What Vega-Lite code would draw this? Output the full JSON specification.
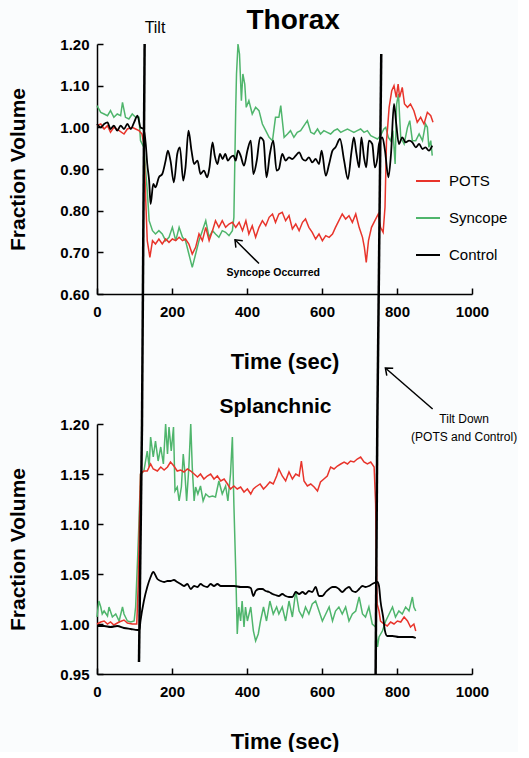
{
  "$schema": "https://vega.github.io/schema/vega-lite/v6.json",
  "background": "#fafcfd",
  "padding": {"left": 7, "top": 6, "right": 0, "bottom": 0},
  "config": {
    "font": "Liberation Sans",
    "view": {"stroke": null},
    "axis": {
      "domainColor": "#000000", "domainWidth": 1.5,
      "tickColor": "#000000", "tickWidth": 1.5, "tickSize": -6,
      "labelPadding": 14, "labelFont": "Liberation Sans", "labelFontSize": 15,
      "labelFontWeight": "bold", "labelColor": "#000000", "grid": false, "labelFlush": false,
      "titleFont": "Liberation Sans", "titleFontSize": 21, "titleFontWeight": "bold", "titleColor": "#000000"
    }
  },
  "datasets": {
    "top": [
      {"s":"Syncope","t":0,"v":1.052},{"s":"Syncope","t":10,"v":1.036},{"s":"Syncope","t":19,"v":1.032},{"s":"Syncope","t":28,"v":1.028},{"s":"Syncope","t":36,"v":1.040},{"s":"Syncope","t":45,"v":1.024},{"s":"Syncope","t":54,"v":1.032},{"s":"Syncope","t":63,"v":1.028},{"s":"Syncope","t":68,"v":1.060},{"s":"Syncope","t":76,"v":1.024},{"s":"Syncope","t":85,"v":1.020},{"s":"Syncope","t":94,"v":1.032},{"s":"Syncope","t":103,"v":1.024},{"s":"Syncope","t":112,"v":1.024},{"s":"Syncope","t":116,"v":0.968},{"s":"Syncope","t":125,"v":0.952},{"s":"Syncope","t":134,"v":0.848},{"s":"Syncope","t":139,"v":0.776},{"s":"Syncope","t":148,"v":0.752},{"s":"Syncope","t":156,"v":0.744},{"s":"Syncope","t":165,"v":0.752},{"s":"Syncope","t":174,"v":0.744},{"s":"Syncope","t":183,"v":0.728},{"s":"Syncope","t":192,"v":0.736},{"s":"Syncope","t":201,"v":0.760},{"s":"Syncope","t":210,"v":0.728},{"s":"Syncope","t":219,"v":0.760},{"s":"Syncope","t":228,"v":0.736},{"s":"Syncope","t":236,"v":0.728},{"s":"Syncope","t":245,"v":0.696},{"s":"Syncope","t":254,"v":0.664},{"s":"Syncope","t":263,"v":0.696},{"s":"Syncope","t":272,"v":0.728},{"s":"Syncope","t":281,"v":0.752},{"s":"Syncope","t":290,"v":0.776},{"s":"Syncope","t":299,"v":0.736},{"s":"Syncope","t":308,"v":0.752},{"s":"Syncope","t":316,"v":0.744},{"s":"Syncope","t":325,"v":0.736},{"s":"Syncope","t":334,"v":0.752},{"s":"Syncope","t":343,"v":0.748},{"s":"Syncope","t":352,"v":0.740},{"s":"Syncope","t":361,"v":0.752},{"s":"Syncope","t":365,"v":0.784},{"s":"Syncope","t":370,"v":1.048},{"s":"Syncope","t":372,"v":1.128},{"s":"Syncope","t":376,"v":1.200},{"s":"Syncope","t":380,"v":1.176},{"s":"Syncope","t":385,"v":1.064},{"s":"Syncope","t":389,"v":1.128},{"s":"Syncope","t":394,"v":1.104},{"s":"Syncope","t":398,"v":1.048},{"s":"Syncope","t":405,"v":1.064},{"s":"Syncope","t":414,"v":1.032},{"s":"Syncope","t":423,"v":1.048},{"s":"Syncope","t":432,"v":1.040},{"s":"Syncope","t":441,"v":1.008},{"s":"Syncope","t":450,"v":0.992},{"s":"Syncope","t":459,"v":0.976},{"s":"Syncope","t":468,"v":0.968},{"s":"Syncope","t":476,"v":1.024},{"s":"Syncope","t":485,"v":1.024},{"s":"Syncope","t":490,"v":1.052},{"s":"Syncope","t":499,"v":0.976},{"s":"Syncope","t":508,"v":0.984},{"s":"Syncope","t":516,"v":0.992},{"s":"Syncope","t":525,"v":0.976},{"s":"Syncope","t":534,"v":0.988},{"s":"Syncope","t":543,"v":0.992},{"s":"Syncope","t":552,"v":1.004},{"s":"Syncope","t":561,"v":1.016},{"s":"Syncope","t":570,"v":0.988},{"s":"Syncope","t":579,"v":0.984},{"s":"Syncope","t":588,"v":0.996},{"s":"Syncope","t":596,"v":0.984},{"s":"Syncope","t":605,"v":0.992},{"s":"Syncope","t":614,"v":0.988},{"s":"Syncope","t":623,"v":0.984},{"s":"Syncope","t":632,"v":0.992},{"s":"Syncope","t":641,"v":0.996},{"s":"Syncope","t":650,"v":0.988},{"s":"Syncope","t":659,"v":0.992},{"s":"Syncope","t":668,"v":0.996},{"s":"Syncope","t":676,"v":0.992},{"s":"Syncope","t":685,"v":0.988},{"s":"Syncope","t":694,"v":0.992},{"s":"Syncope","t":703,"v":0.996},{"s":"Syncope","t":712,"v":0.988},{"s":"Syncope","t":721,"v":0.992},{"s":"Syncope","t":730,"v":0.980},{"s":"Syncope","t":739,"v":0.976},{"s":"Syncope","t":748,"v":0.972},{"s":"Syncope","t":756,"v":0.980},{"s":"Syncope","t":765,"v":0.996},{"s":"Syncope","t":770,"v":1.000},{"s":"Syncope","t":777,"v":0.976},{"s":"Syncope","t":783,"v":0.968},{"s":"Syncope","t":789,"v":0.992},{"s":"Syncope","t":795,"v":0.912},{"s":"Syncope","t":799,"v":1.056},{"s":"Syncope","t":804,"v":1.080},{"s":"Syncope","t":807,"v":1.024},{"s":"Syncope","t":810,"v":0.976},{"s":"Syncope","t":819,"v":0.960},{"s":"Syncope","t":828,"v":1.000},{"s":"Syncope","t":834,"v":1.016},{"s":"Syncope","t":841,"v":0.968},{"s":"Syncope","t":850,"v":0.968},{"s":"Syncope","t":859,"v":0.984},{"s":"Syncope","t":868,"v":0.968},{"s":"Syncope","t":876,"v":1.008},{"s":"Syncope","t":881,"v":1.000},{"s":"Syncope","t":885,"v":0.952},{"s":"Syncope","t":890,"v":0.968},{"s":"Syncope","t":894,"v":0.932},
      {"s":"POTS","t":0,"v":1.004},{"s":"POTS","t":10,"v":1.008},{"s":"POTS","t":19,"v":0.996},{"s":"POTS","t":28,"v":1.004},{"s":"POTS","t":36,"v":0.988},{"s":"POTS","t":45,"v":1.000},{"s":"POTS","t":59,"v":0.992},{"s":"POTS","t":72,"v":0.984},{"s":"POTS","t":81,"v":0.996},{"s":"POTS","t":94,"v":1.000},{"s":"POTS","t":103,"v":0.996},{"s":"POTS","t":112,"v":0.992},{"s":"POTS","t":120,"v":0.984},{"s":"POTS","t":125,"v":0.960},{"s":"POTS","t":130,"v":0.824},{"s":"POTS","t":134,"v":0.728},{"s":"POTS","t":141,"v":0.688},{"s":"POTS","t":148,"v":0.728},{"s":"POTS","t":156,"v":0.720},{"s":"POTS","t":165,"v":0.732},{"s":"POTS","t":174,"v":0.720},{"s":"POTS","t":183,"v":0.732},{"s":"POTS","t":192,"v":0.724},{"s":"POTS","t":201,"v":0.732},{"s":"POTS","t":210,"v":0.728},{"s":"POTS","t":219,"v":0.736},{"s":"POTS","t":228,"v":0.728},{"s":"POTS","t":236,"v":0.732},{"s":"POTS","t":245,"v":0.720},{"s":"POTS","t":254,"v":0.696},{"s":"POTS","t":263,"v":0.712},{"s":"POTS","t":272,"v":0.744},{"s":"POTS","t":281,"v":0.728},{"s":"POTS","t":290,"v":0.760},{"s":"POTS","t":299,"v":0.728},{"s":"POTS","t":308,"v":0.752},{"s":"POTS","t":316,"v":0.776},{"s":"POTS","t":325,"v":0.760},{"s":"POTS","t":334,"v":0.776},{"s":"POTS","t":343,"v":0.760},{"s":"POTS","t":352,"v":0.768},{"s":"POTS","t":361,"v":0.772},{"s":"POTS","t":370,"v":0.760},{"s":"POTS","t":379,"v":0.772},{"s":"POTS","t":388,"v":0.752},{"s":"POTS","t":397,"v":0.776},{"s":"POTS","t":405,"v":0.744},{"s":"POTS","t":414,"v":0.764},{"s":"POTS","t":423,"v":0.736},{"s":"POTS","t":432,"v":0.760},{"s":"POTS","t":441,"v":0.776},{"s":"POTS","t":450,"v":0.764},{"s":"POTS","t":459,"v":0.784},{"s":"POTS","t":468,"v":0.792},{"s":"POTS","t":476,"v":0.772},{"s":"POTS","t":485,"v":0.792},{"s":"POTS","t":494,"v":0.796},{"s":"POTS","t":503,"v":0.776},{"s":"POTS","t":512,"v":0.788},{"s":"POTS","t":521,"v":0.756},{"s":"POTS","t":530,"v":0.768},{"s":"POTS","t":539,"v":0.752},{"s":"POTS","t":548,"v":0.772},{"s":"POTS","t":556,"v":0.780},{"s":"POTS","t":565,"v":0.760},{"s":"POTS","t":574,"v":0.748},{"s":"POTS","t":583,"v":0.732},{"s":"POTS","t":592,"v":0.744},{"s":"POTS","t":601,"v":0.728},{"s":"POTS","t":610,"v":0.740},{"s":"POTS","t":619,"v":0.736},{"s":"POTS","t":628,"v":0.744},{"s":"POTS","t":636,"v":0.760},{"s":"POTS","t":645,"v":0.776},{"s":"POTS","t":654,"v":0.792},{"s":"POTS","t":663,"v":0.780},{"s":"POTS","t":672,"v":0.788},{"s":"POTS","t":681,"v":0.772},{"s":"POTS","t":690,"v":0.792},{"s":"POTS","t":699,"v":0.760},{"s":"POTS","t":708,"v":0.736},{"s":"POTS","t":713,"v":0.712},{"s":"POTS","t":718,"v":0.676},{"s":"POTS","t":724,"v":0.728},{"s":"POTS","t":732,"v":0.760},{"s":"POTS","t":741,"v":0.776},{"s":"POTS","t":750,"v":0.792},{"s":"POTS","t":756,"v":0.760},{"s":"POTS","t":763,"v":0.748},{"s":"POTS","t":768,"v":0.808},{"s":"POTS","t":772,"v":0.968},{"s":"POTS","t":775,"v":1.000},{"s":"POTS","t":779,"v":1.048},{"s":"POTS","t":786,"v":1.088},{"s":"POTS","t":792,"v":1.100},{"s":"POTS","t":798,"v":1.072},{"s":"POTS","t":803,"v":1.104},{"s":"POTS","t":807,"v":1.072},{"s":"POTS","t":814,"v":1.096},{"s":"POTS","t":820,"v":1.056},{"s":"POTS","t":828,"v":1.048},{"s":"POTS","t":836,"v":1.056},{"s":"POTS","t":845,"v":1.040},{"s":"POTS","t":854,"v":1.012},{"s":"POTS","t":863,"v":1.024},{"s":"POTS","t":872,"v":1.008},{"s":"POTS","t":881,"v":1.036},{"s":"POTS","t":890,"v":1.028},{"s":"POTS","t":896,"v":1.012},
      {"s":"Control","t":0,"v":1.008},{"s":"Control","t":10,"v":1.000},{"s":"Control","t":19,"v":1.008},{"s":"Control","t":28,"v":1.012},{"s":"Control","t":36,"v":0.996},{"s":"Control","t":45,"v":1.004},{"s":"Control","t":54,"v":0.992},{"s":"Control","t":63,"v":1.004},{"s":"Control","t":72,"v":0.996},{"s":"Control","t":81,"v":1.008},{"s":"Control","t":90,"v":0.996},{"s":"Control","t":99,"v":1.012},{"s":"Control","t":108,"v":1.028},{"s":"Control","t":116,"v":1.000},{"s":"Control","t":124,"v":0.996},{"s":"Control","t":130,"v":0.960},{"s":"Control","t":134,"v":0.912},{"s":"Control","t":139,"v":0.872},{"s":"Control","t":143,"v":0.816},{"s":"Control","t":150,"v":0.864},{"s":"Control","t":156,"v":0.856},{"s":"Control","t":165,"v":0.880},{"s":"Control","t":174,"v":0.888},{"s":"Control","t":183,"v":0.920},{"s":"Control","t":189,"v":0.944},{"s":"Control","t":196,"v":0.920},{"s":"Control","t":205,"v":0.868},{"s":"Control","t":214,"v":0.936},{"s":"Control","t":221,"v":0.952},{"s":"Control","t":230,"v":0.872},{"s":"Control","t":236,"v":0.904},{"s":"Control","t":244,"v":0.992},{"s":"Control","t":252,"v":0.944},{"s":"Control","t":259,"v":0.912},{"s":"Control","t":268,"v":0.920},{"s":"Control","t":276,"v":0.888},{"s":"Control","t":285,"v":0.896},{"s":"Control","t":294,"v":0.880},{"s":"Control","t":300,"v":0.904},{"s":"Control","t":308,"v":0.964},{"s":"Control","t":314,"v":0.932},{"s":"Control","t":321,"v":0.912},{"s":"Control","t":328,"v":0.936},{"s":"Control","t":335,"v":0.924},{"s":"Control","t":342,"v":0.936},{"s":"Control","t":349,"v":0.920},{"s":"Control","t":356,"v":0.928},{"s":"Control","t":364,"v":0.932},{"s":"Control","t":370,"v":0.920},{"s":"Control","t":376,"v":0.944},{"s":"Control","t":383,"v":0.932},{"s":"Control","t":392,"v":0.908},{"s":"Control","t":401,"v":0.944},{"s":"Control","t":410,"v":0.968},{"s":"Control","t":417,"v":0.888},{"s":"Control","t":426,"v":0.920},{"s":"Control","t":435,"v":0.976},{"s":"Control","t":444,"v":0.968},{"s":"Control","t":452,"v":0.880},{"s":"Control","t":461,"v":0.936},{"s":"Control","t":470,"v":0.968},{"s":"Control","t":479,"v":0.896},{"s":"Control","t":485,"v":0.900},{"s":"Control","t":494,"v":0.936},{"s":"Control","t":503,"v":0.920},{"s":"Control","t":512,"v":0.928},{"s":"Control","t":521,"v":0.924},{"s":"Control","t":530,"v":0.932},{"s":"Control","t":539,"v":0.940},{"s":"Control","t":548,"v":0.924},{"s":"Control","t":556,"v":0.920},{"s":"Control","t":565,"v":0.928},{"s":"Control","t":574,"v":0.916},{"s":"Control","t":583,"v":0.924},{"s":"Control","t":592,"v":0.912},{"s":"Control","t":599,"v":0.944},{"s":"Control","t":610,"v":0.884},{"s":"Control","t":619,"v":0.912},{"s":"Control","t":628,"v":0.944},{"s":"Control","t":636,"v":0.952},{"s":"Control","t":648,"v":0.972},{"s":"Control","t":659,"v":0.920},{"s":"Control","t":669,"v":0.876},{"s":"Control","t":679,"v":0.944},{"s":"Control","t":685,"v":0.976},{"s":"Control","t":692,"v":0.936},{"s":"Control","t":699,"v":0.904},{"s":"Control","t":705,"v":0.976},{"s":"Control","t":712,"v":0.928},{"s":"Control","t":718,"v":0.904},{"s":"Control","t":725,"v":0.968},{"s":"Control","t":734,"v":0.960},{"s":"Control","t":741,"v":0.904},{"s":"Control","t":748,"v":0.928},{"s":"Control","t":752,"v":0.960},{"s":"Control","t":761,"v":0.976},{"s":"Control","t":768,"v":0.944},{"s":"Control","t":777,"v":0.880},{"s":"Control","t":784,"v":0.936},{"s":"Control","t":792,"v":1.056},{"s":"Control","t":798,"v":1.008},{"s":"Control","t":805,"v":0.960},{"s":"Control","t":814,"v":0.976},{"s":"Control","t":823,"v":0.964},{"s":"Control","t":832,"v":0.968},{"s":"Control","t":841,"v":0.964},{"s":"Control","t":850,"v":0.952},{"s":"Control","t":859,"v":0.960},{"s":"Control","t":868,"v":0.948},{"s":"Control","t":876,"v":0.952},{"s":"Control","t":885,"v":0.944},{"s":"Control","t":894,"v":0.956}
    ],
    "bottom": [
      {"s":"Syncope","t":0,"v":1.007},{"s":"Syncope","t":5,"v":1.023},{"s":"Syncope","t":10,"v":1.017},{"s":"Syncope","t":14,"v":1.010},{"s":"Syncope","t":19,"v":1.013},{"s":"Syncope","t":28,"v":1.008},{"s":"Syncope","t":32,"v":1.017},{"s":"Syncope","t":41,"v":1.007},{"s":"Syncope","t":50,"v":1.010},{"s":"Syncope","t":59,"v":1.003},{"s":"Syncope","t":68,"v":1.017},{"s":"Syncope","t":72,"v":1.010},{"s":"Syncope","t":81,"v":1.003},{"s":"Syncope","t":90,"v":1.002},{"s":"Syncope","t":99,"v":1.003},{"s":"Syncope","t":103,"v":1.017},{"s":"Syncope","t":108,"v":1.063},{"s":"Syncope","t":112,"v":1.103},{"s":"Syncope","t":116,"v":1.150},{"s":"Syncope","t":125,"v":1.153},{"s":"Syncope","t":134,"v":1.173},{"s":"Syncope","t":139,"v":1.157},{"s":"Syncope","t":143,"v":1.187},{"s":"Syncope","t":150,"v":1.167},{"s":"Syncope","t":156,"v":1.183},{"s":"Syncope","t":163,"v":1.163},{"s":"Syncope","t":170,"v":1.177},{"s":"Syncope","t":177,"v":1.160},{"s":"Syncope","t":183,"v":1.200},{"s":"Syncope","t":188,"v":1.170},{"s":"Syncope","t":192,"v":1.197},{"s":"Syncope","t":198,"v":1.173},{"s":"Syncope","t":204,"v":1.197},{"s":"Syncope","t":208,"v":1.133},{"s":"Syncope","t":214,"v":1.137},{"s":"Syncope","t":219,"v":1.123},{"s":"Syncope","t":225,"v":1.137},{"s":"Syncope","t":230,"v":1.170},{"s":"Syncope","t":234,"v":1.153},{"s":"Syncope","t":239,"v":1.123},{"s":"Syncope","t":245,"v":1.157},{"s":"Syncope","t":250,"v":1.200},{"s":"Syncope","t":254,"v":1.157},{"s":"Syncope","t":259,"v":1.123},{"s":"Syncope","t":263,"v":1.137},{"s":"Syncope","t":269,"v":1.130},{"s":"Syncope","t":276,"v":1.138},{"s":"Syncope","t":283,"v":1.123},{"s":"Syncope","t":290,"v":1.130},{"s":"Syncope","t":299,"v":1.127},{"s":"Syncope","t":308,"v":1.128},{"s":"Syncope","t":316,"v":1.127},{"s":"Syncope","t":325,"v":1.143},{"s":"Syncope","t":334,"v":1.130},{"s":"Syncope","t":343,"v":1.138},{"s":"Syncope","t":349,"v":1.123},{"s":"Syncope","t":356,"v":1.150},{"s":"Syncope","t":361,"v":1.187},{"s":"Syncope","t":365,"v":1.120},{"s":"Syncope","t":370,"v":1.053},{"s":"Syncope","t":374,"v":0.990},{"s":"Syncope","t":378,"v":1.017},{"s":"Syncope","t":383,"v":1.003},{"s":"Syncope","t":387,"v":1.023},{"s":"Syncope","t":392,"v":0.997},{"s":"Syncope","t":396,"v":1.017},{"s":"Syncope","t":401,"v":1.003},{"s":"Syncope","t":410,"v":1.017},{"s":"Syncope","t":417,"v":0.993},{"s":"Syncope","t":423,"v":0.983},{"s":"Syncope","t":430,"v":0.990},{"s":"Syncope","t":436,"v":1.003},{"s":"Syncope","t":444,"v":1.017},{"s":"Syncope","t":452,"v":1.003},{"s":"Syncope","t":461,"v":1.023},{"s":"Syncope","t":470,"v":1.010},{"s":"Syncope","t":479,"v":1.017},{"s":"Syncope","t":485,"v":1.010},{"s":"Syncope","t":494,"v":1.017},{"s":"Syncope","t":503,"v":1.003},{"s":"Syncope","t":512,"v":1.023},{"s":"Syncope","t":521,"v":1.007},{"s":"Syncope","t":530,"v":1.033},{"s":"Syncope","t":539,"v":1.013},{"s":"Syncope","t":548,"v":1.007},{"s":"Syncope","t":556,"v":1.017},{"s":"Syncope","t":565,"v":1.010},{"s":"Syncope","t":574,"v":1.020},{"s":"Syncope","t":583,"v":1.023},{"s":"Syncope","t":592,"v":1.013},{"s":"Syncope","t":601,"v":1.003},{"s":"Syncope","t":610,"v":1.010},{"s":"Syncope","t":619,"v":1.017},{"s":"Syncope","t":628,"v":1.003},{"s":"Syncope","t":636,"v":1.013},{"s":"Syncope","t":645,"v":1.017},{"s":"Syncope","t":654,"v":1.010},{"s":"Syncope","t":663,"v":1.017},{"s":"Syncope","t":672,"v":1.003},{"s":"Syncope","t":681,"v":1.010},{"s":"Syncope","t":690,"v":1.013},{"s":"Syncope","t":699,"v":1.027},{"s":"Syncope","t":708,"v":1.010},{"s":"Syncope","t":716,"v":1.007},{"s":"Syncope","t":725,"v":1.017},{"s":"Syncope","t":734,"v":1.000},{"s":"Syncope","t":743,"v":0.997},{"s":"Syncope","t":748,"v":0.977},{"s":"Syncope","t":752,"v":0.987},{"s":"Syncope","t":761,"v":0.993},{"s":"Syncope","t":770,"v":1.003},{"s":"Syncope","t":779,"v":1.010},{"s":"Syncope","t":788,"v":1.017},{"s":"Syncope","t":796,"v":1.007},{"s":"Syncope","t":805,"v":1.013},{"s":"Syncope","t":814,"v":1.010},{"s":"Syncope","t":823,"v":1.017},{"s":"Syncope","t":832,"v":1.013},{"s":"Syncope","t":841,"v":1.027},{"s":"Syncope","t":845,"v":1.017},{"s":"Syncope","t":850,"v":1.013},
      {"s":"POTS","t":0,"v":1.000},{"s":"POTS","t":10,"v":1.002},{"s":"POTS","t":19,"v":1.003},{"s":"POTS","t":28,"v":1.000},{"s":"POTS","t":36,"v":1.002},{"s":"POTS","t":45,"v":0.999},{"s":"POTS","t":59,"v":1.002},{"s":"POTS","t":72,"v":1.004},{"s":"POTS","t":81,"v":1.001},{"s":"POTS","t":94,"v":1.000},{"s":"POTS","t":106,"v":1.000},{"s":"POTS","t":110,"v":1.040},{"s":"POTS","t":113,"v":1.100},{"s":"POTS","t":116,"v":1.150},{"s":"POTS","t":125,"v":1.153},{"s":"POTS","t":134,"v":1.153},{"s":"POTS","t":143,"v":1.160},{"s":"POTS","t":150,"v":1.155},{"s":"POTS","t":161,"v":1.153},{"s":"POTS","t":170,"v":1.157},{"s":"POTS","t":179,"v":1.154},{"s":"POTS","t":188,"v":1.157},{"s":"POTS","t":196,"v":1.162},{"s":"POTS","t":205,"v":1.158},{"s":"POTS","t":214,"v":1.153},{"s":"POTS","t":223,"v":1.154},{"s":"POTS","t":232,"v":1.152},{"s":"POTS","t":241,"v":1.155},{"s":"POTS","t":250,"v":1.153},{"s":"POTS","t":259,"v":1.150},{"s":"POTS","t":268,"v":1.147},{"s":"POTS","t":276,"v":1.150},{"s":"POTS","t":285,"v":1.145},{"s":"POTS","t":294,"v":1.148},{"s":"POTS","t":303,"v":1.150},{"s":"POTS","t":312,"v":1.145},{"s":"POTS","t":321,"v":1.148},{"s":"POTS","t":330,"v":1.143},{"s":"POTS","t":339,"v":1.145},{"s":"POTS","t":348,"v":1.140},{"s":"POTS","t":356,"v":1.135},{"s":"POTS","t":365,"v":1.138},{"s":"POTS","t":374,"v":1.135},{"s":"POTS","t":383,"v":1.137},{"s":"POTS","t":392,"v":1.132},{"s":"POTS","t":401,"v":1.135},{"s":"POTS","t":410,"v":1.130},{"s":"POTS","t":417,"v":1.135},{"s":"POTS","t":423,"v":1.137},{"s":"POTS","t":435,"v":1.140},{"s":"POTS","t":444,"v":1.135},{"s":"POTS","t":452,"v":1.138},{"s":"POTS","t":461,"v":1.142},{"s":"POTS","t":470,"v":1.140},{"s":"POTS","t":479,"v":1.148},{"s":"POTS","t":485,"v":1.155},{"s":"POTS","t":494,"v":1.148},{"s":"POTS","t":503,"v":1.143},{"s":"POTS","t":512,"v":1.152},{"s":"POTS","t":521,"v":1.145},{"s":"POTS","t":530,"v":1.150},{"s":"POTS","t":539,"v":1.148},{"s":"POTS","t":545,"v":1.163},{"s":"POTS","t":552,"v":1.143},{"s":"POTS","t":561,"v":1.138},{"s":"POTS","t":570,"v":1.140},{"s":"POTS","t":579,"v":1.137},{"s":"POTS","t":588,"v":1.133},{"s":"POTS","t":596,"v":1.142},{"s":"POTS","t":605,"v":1.145},{"s":"POTS","t":614,"v":1.148},{"s":"POTS","t":623,"v":1.157},{"s":"POTS","t":632,"v":1.155},{"s":"POTS","t":641,"v":1.158},{"s":"POTS","t":650,"v":1.160},{"s":"POTS","t":659,"v":1.162},{"s":"POTS","t":668,"v":1.160},{"s":"POTS","t":676,"v":1.163},{"s":"POTS","t":685,"v":1.162},{"s":"POTS","t":694,"v":1.165},{"s":"POTS","t":703,"v":1.167},{"s":"POTS","t":712,"v":1.162},{"s":"POTS","t":721,"v":1.160},{"s":"POTS","t":730,"v":1.162},{"s":"POTS","t":739,"v":1.157},{"s":"POTS","t":743,"v":1.120},{"s":"POTS","t":745,"v":1.060},{"s":"POTS","t":747,"v":1.020},{"s":"POTS","t":752,"v":1.013},{"s":"POTS","t":756,"v":1.003},{"s":"POTS","t":765,"v":1.000},{"s":"POTS","t":774,"v":0.998},{"s":"POTS","t":783,"v":1.002},{"s":"POTS","t":792,"v":1.000},{"s":"POTS","t":801,"v":1.003},{"s":"POTS","t":810,"v":1.002},{"s":"POTS","t":819,"v":1.007},{"s":"POTS","t":828,"v":1.003},{"s":"POTS","t":836,"v":0.997},{"s":"POTS","t":845,"v":1.000},{"s":"POTS","t":850,"v":0.993},
      {"s":"Control","t":0,"v":0.998},{"s":"Control","t":19,"v":0.998},{"s":"Control","t":36,"v":0.997},{"s":"Control","t":54,"v":0.998},{"s":"Control","t":72,"v":0.996},{"s":"Control","t":90,"v":0.995},{"s":"Control","t":108,"v":0.994},{"s":"Control","t":113,"v":0.994},{"s":"Control","t":116,"v":1.003},{"s":"Control","t":125,"v":1.023},{"s":"Control","t":134,"v":1.037},{"s":"Control","t":143,"v":1.047},{"s":"Control","t":150,"v":1.052},{"s":"Control","t":161,"v":1.045},{"s":"Control","t":170,"v":1.043},{"s":"Control","t":179,"v":1.042},{"s":"Control","t":188,"v":1.043},{"s":"Control","t":196,"v":1.043},{"s":"Control","t":205,"v":1.044},{"s":"Control","t":214,"v":1.042},{"s":"Control","t":223,"v":1.040},{"s":"Control","t":232,"v":1.038},{"s":"Control","t":241,"v":1.040},{"s":"Control","t":250,"v":1.035},{"s":"Control","t":259,"v":1.038},{"s":"Control","t":268,"v":1.037},{"s":"Control","t":276,"v":1.040},{"s":"Control","t":285,"v":1.038},{"s":"Control","t":294,"v":1.037},{"s":"Control","t":303,"v":1.040},{"s":"Control","t":312,"v":1.038},{"s":"Control","t":321,"v":1.040},{"s":"Control","t":330,"v":1.038},{"s":"Control","t":348,"v":1.038},{"s":"Control","t":366,"v":1.038},{"s":"Control","t":383,"v":1.037},{"s":"Control","t":401,"v":1.037},{"s":"Control","t":410,"v":1.036},{"s":"Control","t":417,"v":1.028},{"s":"Control","t":423,"v":1.033},{"s":"Control","t":432,"v":1.035},{"s":"Control","t":441,"v":1.035},{"s":"Control","t":450,"v":1.033},{"s":"Control","t":459,"v":1.032},{"s":"Control","t":468,"v":1.030},{"s":"Control","t":476,"v":1.029},{"s":"Control","t":485,"v":1.028},{"s":"Control","t":494,"v":1.030},{"s":"Control","t":503,"v":1.028},{"s":"Control","t":512,"v":1.027},{"s":"Control","t":521,"v":1.027},{"s":"Control","t":530,"v":1.032},{"s":"Control","t":539,"v":1.030},{"s":"Control","t":548,"v":1.032},{"s":"Control","t":556,"v":1.030},{"s":"Control","t":565,"v":1.033},{"s":"Control","t":574,"v":1.032},{"s":"Control","t":583,"v":1.037},{"s":"Control","t":592,"v":1.028},{"s":"Control","t":601,"v":1.028},{"s":"Control","t":610,"v":1.032},{"s":"Control","t":619,"v":1.035},{"s":"Control","t":628,"v":1.037},{"s":"Control","t":636,"v":1.037},{"s":"Control","t":645,"v":1.035},{"s":"Control","t":654,"v":1.032},{"s":"Control","t":663,"v":1.035},{"s":"Control","t":672,"v":1.037},{"s":"Control","t":681,"v":1.033},{"s":"Control","t":690,"v":1.032},{"s":"Control","t":699,"v":1.035},{"s":"Control","t":708,"v":1.038},{"s":"Control","t":716,"v":1.037},{"s":"Control","t":725,"v":1.038},{"s":"Control","t":734,"v":1.040},{"s":"Control","t":748,"v":1.042},{"s":"Control","t":752,"v":1.038},{"s":"Control","t":756,"v":1.023},{"s":"Control","t":763,"v":1.007},{"s":"Control","t":768,"v":0.993},{"s":"Control","t":774,"v":0.988},{"s":"Control","t":788,"v":0.988},{"s":"Control","t":805,"v":0.987},{"s":"Control","t":823,"v":0.987},{"s":"Control","t":841,"v":0.987},{"s":"Control","t":850,"v":0.986}
    ],
    "topRules": [
      {"t":127,"v":1.2,"t2":120,"v2":0.288},
      {"t":758,"v":1.176,"t2":747.5,"v2":0.288}
    ],
    "bottomRules": [
      {"t":120,"v":1.2,"t2":112,"v2":0.962},
      {"t":747.5,"v":1.2,"t2":743,"v2":0.95}
    ],
    "topArrow": [{"t":432,"v":0.673,"t2":368,"v2":0.73}],
    "topArrowHead": [{"t":368,"v":0.73}],
    "bottomArrow": [{"t":895,"v":1.215,"t2":769,"v2":1.256}],
    "bottomArrowHead": [{"t":769,"v":1.256}],
    "topTitle": [{"t":523,"v":1.236,"label":"Thorax"}],
    "bottomTitle": [{"t":476,"v":1.211,"label":"Splanchnic"}],
    "tiltLabel": [{"t":127,"v":1.2,"label":"Tilt"}],
    "syncopeLabel": [{"t":470,"v":0.644,"label":"Syncope Occurred"}],
    "tiltDownLabel": [
      {"t":979,"v":1.2013,"label":"Tilt Down"},
      {"t":979,"v":1.183,"label":"(POTS and Control)"}
    ]
  },
  "spacing": 130,
  "bounds": "flush",
  "resolve": {"scale": {"color": "independent"}, "legend": {"color": "independent"}},
  "vconcat": [
    {
      "width": 375,
      "height": 250,
      "encoding": {
        "x": {"field": "t", "type": "quantitative", "scale": {"domain": [0, 1000], "nice": false}, "axis": {"values": [0, 200, 400, 600, 800, 1000], "format": "d", "labelPadding": 16, "title": "Time (sec)", "titlePadding": 32, "titleFontSize": 22}},
        "y": {"field": "v", "type": "quantitative", "scale": {"domain": [0.6, 1.2], "nice": false, "zero": false}, "axis": {"values": [0.6, 0.7, 0.8, 0.9, 1.0, 1.1, 1.2], "format": ".2f", "title": "Fraction Volume", "titlePadding": 31}}
      },
      "layer": [
        {
          "data": {"name": "top"},
          "transform": [{"filter": "datum.s !== 'Control'"}],
          "mark": {"type": "line", "strokeWidth": 1.5},
          "encoding": {
            "color": {"field": "s", "type": "nominal",
              "scale": {"domain": ["POTS", "Syncope", "Control"], "range": ["#e8342b", "#4fb56c", "#000000"]},
              "legend": {"orient": "none", "legendX": 318, "legendY": 124, "title": null, "symbolType": "stroke", "symbolSize": 576, "symbolStrokeWidth": 2, "labelFontSize": 15, "labelFont": "Liberation Sans", "labelColor": "#000000", "rowPadding": 16, "labelOffset": 8, "padding": 0}}
          }
        },
        {
          "data": {"name": "top"},
          "transform": [{"filter": "datum.s === 'Control'"}],
          "mark": {"type": "line", "strokeWidth": 1.8, "interpolate": "monotone"},
          "encoding": {
            "color": {"field": "s", "type": "nominal",
              "scale": {"domain": ["POTS", "Syncope", "Control"], "range": ["#e8342b", "#4fb56c", "#000000"]},
              "legend": {"orient": "none", "legendX": 318, "legendY": 124, "title": null, "symbolType": "stroke", "symbolSize": 576, "symbolStrokeWidth": 2, "labelFontSize": 15, "labelFont": "Liberation Sans", "labelColor": "#000000", "rowPadding": 16, "labelOffset": 8, "padding": 0}}
          }
        },
        {
          "data": {"name": "topRules"},
          "mark": {"type": "rule", "color": "#000000", "strokeWidth": 2.5},
          "encoding": {"x2": {"field": "t2"}, "y2": {"field": "v2"}}
        },
        {
          "data": {"name": "topArrow"},
          "mark": {"type": "rule", "color": "#000000", "strokeWidth": 1.5},
          "encoding": {"x2": {"field": "t2"}, "y2": {"field": "v2"}}
        },
        {
          "data": {"name": "topArrowHead"},
          "mark": {"type": "point", "shape": "M-0.8,1L0,0L0.8,1", "filled": false, "stroke": "#000000", "strokeWidth": 1.5, "size": 150, "angle": -45, "opacity": 1}
        },
        {
          "data": {"name": "topTitle"},
          "mark": {"type": "text", "align": "center", "baseline": "alphabetic", "fontSize": 28, "fontWeight": "bold", "font": "Liberation Sans", "color": "#000000"},
          "encoding": {"text": {"field": "label"}}
        },
        {
          "data": {"name": "tiltLabel"},
          "mark": {"type": "text", "align": "left", "baseline": "alphabetic", "dy": -11, "fontSize": 16, "font": "Liberation Sans", "color": "#000000"},
          "encoding": {"text": {"field": "label"}}
        },
        {
          "data": {"name": "syncopeLabel"},
          "mark": {"type": "text", "align": "center", "baseline": "alphabetic", "fontSize": 10.5, "fontWeight": "bold", "font": "Liberation Sans", "color": "#000000"},
          "encoding": {"text": {"field": "label"}}
        }
      ]
    },
    {
      "width": 375,
      "height": 250,
      "encoding": {
        "x": {"field": "t", "type": "quantitative", "scale": {"domain": [0, 1000], "nice": false}, "axis": {"values": [0, 200, 400, 600, 800, 1000], "format": "d", "labelPadding": 16, "title": "Time (sec)", "titlePadding": 32, "titleFontSize": 22}},
        "y": {"field": "v", "type": "quantitative", "scale": {"domain": [0.95, 1.2], "nice": false, "zero": false}, "axis": {"values": [0.95, 1.0, 1.05, 1.1, 1.15, 1.2], "format": ".2f", "title": "Fraction Volume", "titlePadding": 31}}
      },
      "layer": [
        {
          "data": {"name": "bottom"},
          "transform": [{"filter": "datum.s !== 'Control'"}],
          "mark": {"type": "line", "strokeWidth": 1.5},
          "encoding": {
            "color": {"field": "s", "type": "nominal",
              "scale": {"domain": ["POTS", "Syncope", "Control"], "range": ["#e8342b", "#4fb56c", "#000000"]},
              "legend": null}
          }
        },
        {
          "data": {"name": "bottom"},
          "transform": [{"filter": "datum.s === 'Control'"}],
          "mark": {"type": "line", "strokeWidth": 1.8, "interpolate": "monotone"},
          "encoding": {
            "color": {"field": "s", "type": "nominal",
              "scale": {"domain": ["POTS", "Syncope", "Control"], "range": ["#e8342b", "#4fb56c", "#000000"]},
              "legend": null}
          }
        },
        {
          "data": {"name": "bottomRules"},
          "mark": {"type": "rule", "color": "#000000", "strokeWidth": 2.5},
          "encoding": {"x2": {"field": "t2"}, "y2": {"field": "v2"}}
        },
        {
          "data": {"name": "bottomArrow"},
          "mark": {"type": "rule", "color": "#000000", "strokeWidth": 1.5},
          "encoding": {"x2": {"field": "t2"}, "y2": {"field": "v2"}}
        },
        {
          "data": {"name": "bottomArrowHead"},
          "mark": {"type": "point", "shape": "M-0.8,1L0,0L0.8,1", "filled": false, "stroke": "#000000", "strokeWidth": 1.5, "size": 150, "angle": -49, "opacity": 1}
        },
        {
          "data": {"name": "bottomTitle"},
          "mark": {"type": "text", "align": "center", "baseline": "alphabetic", "fontSize": 21, "fontWeight": "bold", "font": "Liberation Sans", "color": "#000000"},
          "encoding": {"text": {"field": "label"}}
        },
        {
          "data": {"name": "tiltDownLabel"},
          "mark": {"type": "text", "align": "center", "baseline": "alphabetic", "fontSize": 12, "font": "Liberation Sans", "color": "#000000"},
          "encoding": {"text": {"field": "label"}}
        }
      ]
    }
  ]
}
